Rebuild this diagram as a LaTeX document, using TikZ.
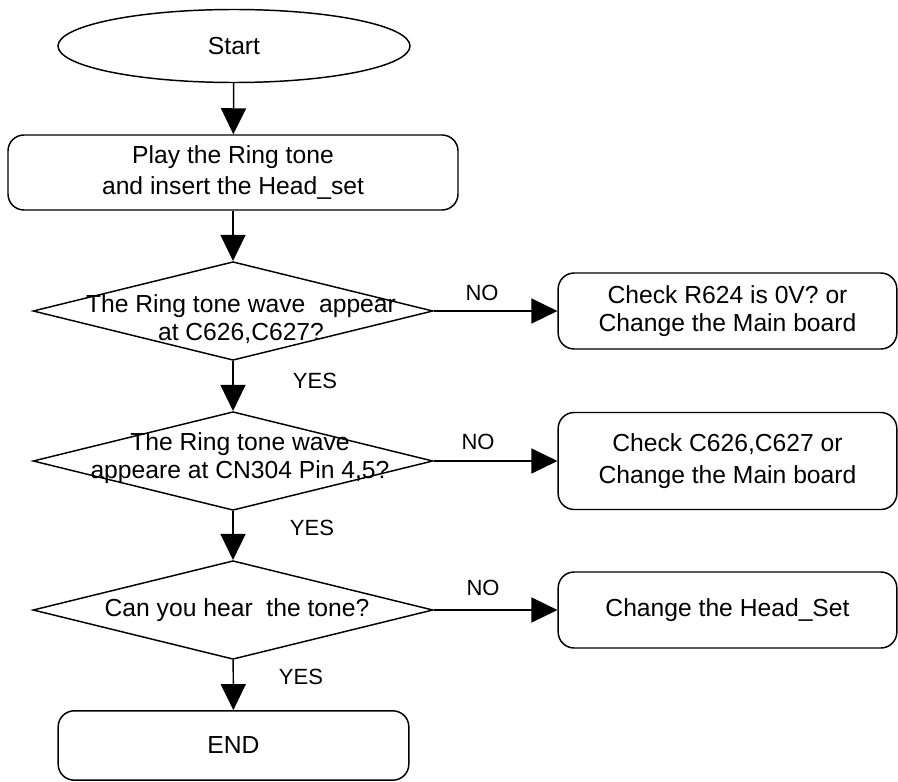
\documentclass[tikz,border=0pt]{standalone}
\usepackage{fontspec}
\setmainfont{Liberation Sans}
\usetikzlibrary{shapes.geometric,arrows.meta}

\begin{document}
\begin{tikzpicture}[x=0.75pt,y=-0.75pt,line width=1.1pt,
  every node/.style={font=\fontsize{18.5}{21}\selectfont},
  term/.style={ellipse,draw,minimum width=264pt,minimum height=54.75pt},
  box/.style={draw,rounded corners=12pt,align=center,minimum width=254pt,minimum height=57pt},
  test/.style={diamond,draw,inner sep=0pt,minimum width=300pt,minimum height=74pt},
  txt/.style={align=center,inner sep=0pt},
  yesno/.style={font=\fontsize{16.5}{20}\selectfont},
  flow/.style={-{Triangle[length=19.5pt,width=18.75pt]}}]
\useasboundingbox (0,0) rectangle (898,781);

\node (start) at (234,46) [term] {Start};
\node (play) at (233,172.5) [box,minimum width=337.5pt,minimum height=56.25pt] {Play the Ring tone\\[2pt] and insert the Head\_set};

\node (q1) at (233,311) [test] {};
\node (q1t) at (241,319) [txt] {The Ring tone wave\ \ appear\\ at C626,C627?};
\node (q2) at (233,461) [test] {};
\node (q2t) at (240,458) [txt] {The Ring tone wave\\ appeare at CN304 Pin 4,5?};
\node (q3) at (233,610) [test] {};
\node (q3t) at (237,610) [txt] {Can you hear\ \ the tone?};

\node (c1) at (727.5,311) [box] {Check R624 is 0V? or\\ Change the Main board};
\node (c2) at (727.5,461) [box,minimum height=72.75pt] {Check C626,C627 or\\[3pt] Change the Main board};
\node (c3) at (727.5,610) [box] {Change the Head\_Set};

\node (end) at (233.5,745.5) [box,minimum width=263pt,minimum height=52pt] {END};

\node (no1) at (482,293) [yesno] {NO};
\node (no2) at (478,442) [yesno] {NO};
\node (no3) at (483,588) [yesno] {NO};
\node (yes1) at (315,381) [yesno] {YES};
\node (yes2) at (312,528) [yesno] {YES};
\node (yes3) at (301,677) [yesno] {YES};

\draw [flow] (start) -- (play);
\draw [flow] (play) -- (q1);
\draw [flow] (q1) -- (q2);
\draw [flow] (q2) -- (q3);
\draw [flow] (q3) -- (end);
\draw [flow] (q1.east) -- (c1.west);
\draw [flow] (q2.east) -- (c2.west);
\draw [flow] (q3.east) -- (c3.west);
\end{tikzpicture}
\end{document}
